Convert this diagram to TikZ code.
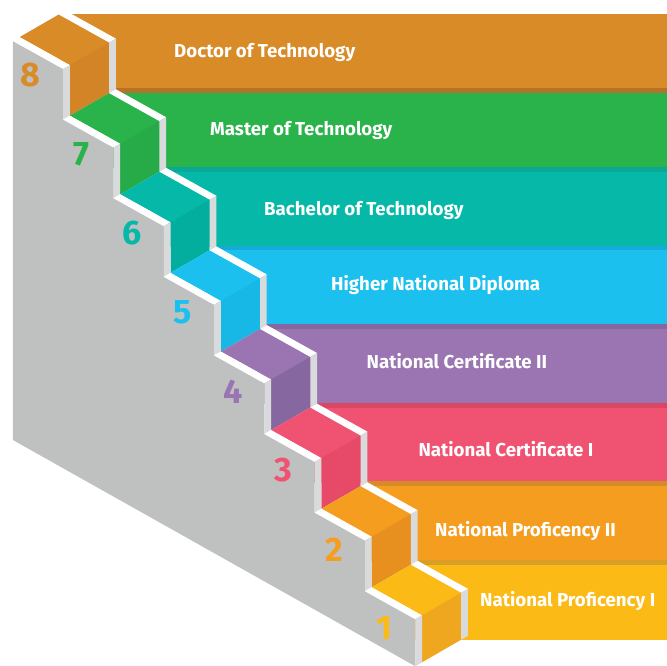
\documentclass[tikz,border=0pt]{standalone}
\usepackage{fontspec}
\setmainfont{Fira Sans}
\definecolor{wallgrey}{HTML}{BFC0C0}
\definecolor{sidegrey}{HTML}{D9DADB}
\definecolor{cA}{HTML}{FCBA16}\definecolor{rA}{HTML}{EEA71E}\definecolor{sA}{HTML}{D99E26}
\definecolor{cB}{HTML}{F59D1F}\definecolor{rB}{HTML}{E8901F}\definecolor{sB}{HTML}{D68A2A}
\definecolor{cC}{HTML}{EF5371}\definecolor{rC}{HTML}{E64A68}\definecolor{sC}{HTML}{D94862}
\definecolor{cD}{HTML}{9B74B2}\definecolor{rD}{HTML}{8767A0}\definecolor{sD}{HTML}{8867A0}
\definecolor{cE}{HTML}{1CC0EF}\definecolor{rE}{HTML}{18B8E6}\definecolor{sE}{HTML}{14ABD8}
\definecolor{cF}{HTML}{05B8A7}\definecolor{rF}{HTML}{04AE9E}\definecolor{sF}{HTML}{0AA896}
\definecolor{cG}{HTML}{2AB24B}\definecolor{rG}{HTML}{27AA48}\definecolor{sG}{HTML}{B5732A}
\definecolor{cH}{HTML}{D98B27}\definecolor{rH}{HTML}{D28427}\definecolor{sH}{HTML}{D98B27}
\tikzset{
  label/.style={text=white,font=\fontsize{18.7}{21}\selectfont\bfseries,anchor=base west,inner sep=0pt},
  num/.style={font=\fontsize{34}{37}\selectfont\bfseries,inner sep=0pt},
  topstrip/.style={fill=white},
  sidestrip/.style={fill=sidegrey}
}
\begin{document}
\begin{tikzpicture}[x=1pt,y=-1pt]
\useasboundingbox (0,0) rectangle (667,666);
\fill[white] (0,0) rectangle (667,666);
% bands
\foreach \k/\c/\s in {7/cH/sH,6/cG/sG,5/cF/sF,4/cE/sE,3/cD/sD,2/cC/sC,1/cB/sB,0/cA/sA}{
  \pgfmathsetmacro\bx{371.7-50.3*\k}
  \pgfmathsetmacro\by{587.3-78.6*\k}
  \ifnum\k=7
    \fill[\c] (\bx+39.2,\by-22.6) rectangle (667,\by+52.7);
  \else
    \fill[\c] (\bx+39.2,\by-27.3) rectangle (667,\by+52.7);
    \fill[\s] (\bx+39.2,\by-27.3) rectangle (667,\by-22.6);
  \fi
}
% left wall
\fill[wallgrey] (12.9,41) \foreach \k in {7,...,1}{ -- ({415.3-50.3*\k},{619.2-78.6*\k}) -- ({415.3-50.3*\k},{669.8-78.6*\k}) } -- (415.3,619.2) -- (415.3,666.2) -- (12.9,440) -- cycle;
% steps
\foreach \k/\c/\r in {7/cH/rH,6/cG/rG,5/cF/rF,4/cE/rE,3/cD/rD,2/cC/rC,1/cB/rB,0/cA/rA}{
  \pgfmathsetmacro\bx{371.7-50.3*\k}
  \pgfmathsetmacro\by{587.3-78.6*\k}
  \pgfmathsetmacro\hh{\k==0 ? 47 : 50.6}
  \fill[\c] (\bx,\by) -- ++(39.2,-22.6) -- ++(50.3,28) -- ++(-39.2,22.6) -- cycle;
  \fill[\r] (\bx+50.3,\by+28) -- ++(39.2,-22.6) -- ++(0,\hh) -- ++(-39.2,22.6) -- cycle;
  \fill[topstrip] (\bx,\by) -- ++(50.3,28) -- ++(-6.7,3.9) -- ++(-50.3,-28) -- cycle;
  \fill[sidestrip] (\bx+50.3,\by+28) -- ++(-6.7,3.9) -- ++(0,\hh) -- ++(6.7,-3.9) -- cycle;
  \fill[topstrip] (\bx+39.2,\by-22.6) -- ++(50.3,28) -- ++(6.7,-3.9) -- ++(-50.3,-28) -- cycle;
  \fill[sidestrip] (\bx+89.5,\by+5.4) -- ++(6.7,-3.9) -- ++(0,\hh) -- ++(-6.7,3.9) -- cycle;
}
% numbers
\foreach \n/\c in {8/cH,7/cG,6/cF,5/cE,4/cD,3/cC,2/cB,1/cA}{
  \node[num,text=\c] (n\n) at ({30.5+50.6*(8-\n)},{75.3+79*(8-\n)}) {\n};
}
% labels
\node[label] (l8) at (174,57.3) {Doctor of Technology};
\node[label] (l7) at (210,136) {Master of Technology};
\node[label] (l6) at (264,215) {Bachelor of Technology};
\node[label] (l5) at (331,290.3) {Higher National Diploma};
\node[label] (l4) at (366.5,368.4) {National Certificate II};
\node[label] (l3) at (418.3,456) {National Certificate I};
\node[label] (l2) at (435,536) {National Proficency II};
\node[label] (l1) at (480,606.7) {National Proficency I};
\end{tikzpicture}
\end{document}
